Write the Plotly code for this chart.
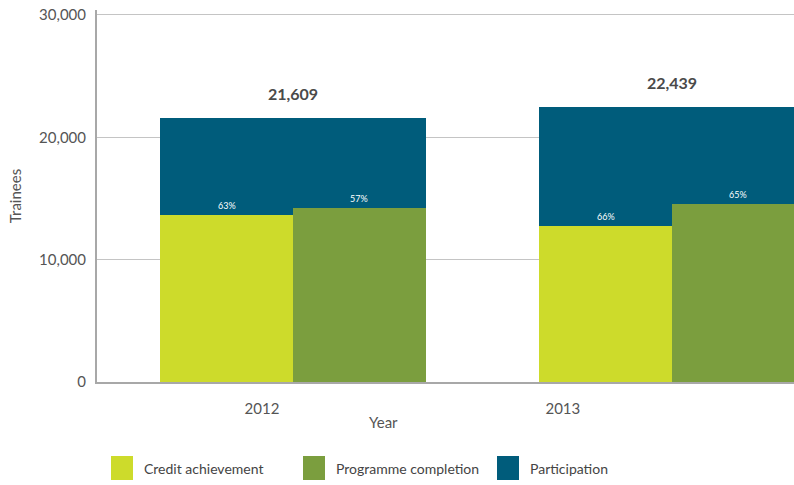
import plotly.graph_objects as go

years = ["2012", "2013"]
participation = [21609, 22439]
credit = [13650, 12780]
programme = [14250, 14550]
credit_pct = ["63%", "66%"]
programme_pct = ["57%", "65%"]

legend_names = ["Credit achievement", "Programme completion", "Participation"]
colors = ["#cddb2b", "#7b9e3e", "#005c7b"]

xpos = list(range(len(years)))
font = "Lato, 'Open Sans', sans-serif"

fig = go.Figure()

fig.add_trace(
    go.Bar(
        x=xpos,
        y=participation,
        width=0.70,
        marker=dict(color=colors[2], line=dict(width=0)),
        name=legend_names[2],
        showlegend=False,
    )
)
fig.add_trace(
    go.Bar(
        x=xpos,
        y=credit,
        width=0.35,
        offset=-0.35,
        marker=dict(color=colors[0], line=dict(width=0)),
        name=legend_names[0],
        showlegend=False,
    )
)
fig.add_trace(
    go.Bar(
        x=xpos,
        y=programme,
        width=0.35,
        offset=0,
        marker=dict(color=colors[1], line=dict(width=0)),
        name=legend_names[1],
        showlegend=False,
    )
)

annotations = []
for i, x in enumerate(xpos):
    annotations.append(
        dict(
            x=x, y=participation[i], text="<b>{:,}</b>".format(participation[i]),
            showarrow=False, yanchor="bottom", yshift=13,
            font=dict(size=16, color="#4a4a4a", family=font),
        )
    )
    annotations.append(
        dict(
            x=x - 0.175, y=credit[i], text=credit_pct[i],
            showarrow=False, yanchor="bottom", yshift=2,
            font=dict(size=9, color="white", family=font),
        )
    )
    annotations.append(
        dict(
            x=x + 0.175, y=programme[i], text=programme_pct[i],
            showarrow=False, yanchor="bottom", yshift=2,
            font=dict(size=9, color="white", family=font),
        )
    )

# plot area in screen pixels: x 97..794, y 10..382
PL, PW, PB, PH = 97, 697, 382, 372

# x axis title
annotations.append(
    dict(
        x=(383 - PL) / PW, y=(PB - 422) / PH, xref="paper", yref="paper", text="Year",
        showarrow=False, yanchor="middle",
        font=dict(size=15, color="#555555", family=font),
    )
)

# legend drawn at the bottom
shapes = []
legend_x = [111, 303, 497]
for name, color, px in zip(legend_names, colors, legend_x):
    shapes.append(
        dict(
            type="rect", xref="paper", yref="paper",
            x0=(px - PL) / PW, x1=(px + 22 - PL) / PW,
            y0=(PB - 480) / PH, y1=(PB - 456) / PH,
            fillcolor=color, line=dict(width=0),
        )
    )
    annotations.append(
        dict(
            x=(px + 31 - PL) / PW, y=(PB - 468) / PH,
            xref="paper", yref="paper", text=name, showarrow=False,
            xanchor="left", yanchor="middle",
            font=dict(size=14, color="#444444", family=font),
        )
    )

fig.update_layout(
    width=794,
    height=485,
    margin=dict(l=97, r=0, t=10, b=103),
    barmode="overlay",
    bargap=0,
    plot_bgcolor="white",
    paper_bgcolor="white",
    font=dict(family=font, color="#555555"),
    annotations=annotations,
    shapes=shapes,
    xaxis=dict(
        range=[-0.5172, 1.3219],
        tickvals=[-0.082, 0.712],
        ticktext=years,
        showgrid=False,
        zeroline=False,
        showline=True,
        linecolor="#a8a8a8",
        linewidth=2,
        ticks="",
        ticklabelstandoff=12,
        tickfont=dict(size=15, color="#555555"),
    ),
    yaxis=dict(
        range=[0, 30400],
        tickvals=[0, 10000, 20000, 30000],
        tickformat=",",
        showgrid=True,
        gridcolor="#c4c4c4",
        gridwidth=1,
        zeroline=False,
        showline=True,
        linecolor="#a8a8a8",
        linewidth=2,
        ticks="",
        ticklabelstandoff=6,
        tickfont=dict(size=15, color="#555555"),
        title=dict(text="Trainees", standoff=14, font=dict(size=15, color="#555555")),
    ),
)

fig.write_html(
    "out.html",
    config={"displayModeBar": False},
    post_script="document.body.style.margin='0';document.body.style.overflow='hidden';",
)
